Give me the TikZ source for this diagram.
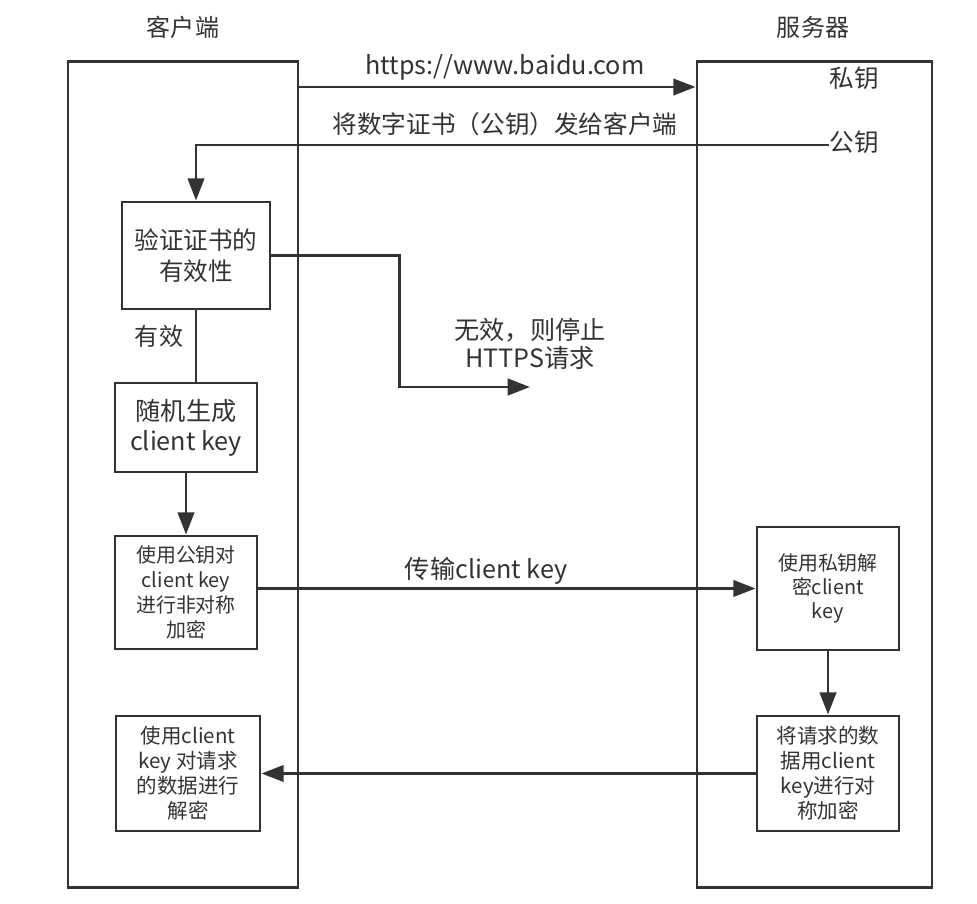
\documentclass[tikz,border=0pt]{standalone}
\usepackage{fontspec}
\setmainfont{Noto Sans CJK SC}
\usetikzlibrary{arrows.meta}
\definecolor{ink}{HTML}{333333}
\newcommand{\fs}[2]{\fontsize{#1pt}{#2pt}\selectfont}
\begin{document}
\begin{tikzpicture}[x=0.03cm,y=-0.03cm,
  line/.style={draw=ink,line width=2.5pt},
  arr/.style={line,-{Triangle[length=19pt,width=14pt]}},
  lane/.style={line,rectangle,inner sep=0pt,minimum width=#1,minimum height=24.78cm},
  box/.style={line,rectangle,inner sep=0pt,align=center,text=ink},
  lbl/.style={text=ink,inner sep=0pt,align=center}]
\useasboundingbox[fill=white] (0,0) rectangle (977,904);
% lanes
\node[lane=6.9cm] (client) at (183,474.5) {};
\node[lane=7.05cm] (server) at (814.5,474.5) {};
\node[lbl,font=\fs{20.5}{24}] (ct) at (183,27) {客户端};
\node[lbl,font=\fs{20.5}{24}] (st) at (813,27) {服务器};
\node[lbl,font=\fs{21}{24}] (priv) at (854,78) {私钥};
\node[lbl,font=\fs{21}{24}] (pub) at (854,142) {公钥};
% boxes
\node[box,minimum width=4.44cm,minimum height=3.21cm,font=\fs{21}{27}] (v1) at (196,255.5) {验证证书的\\有效性};
\node[box,minimum width=4.26cm,minimum height=2.67cm,font=\fs{21.5}{25.6}] (v2) at (186,427.5) {随机生成\\client key};
\node[box,minimum width=4.26cm,minimum height=3.39cm,font=\fs{17}{21.3}] (v3) at (186,592.5) {使用公钥对\\client key\\进行非对称\\加密};
\node[box,minimum width=4.26cm,minimum height=3.69cm,font=\fs{17}{20.5}] (v4) at (828,588.5) {使用私钥解\\密client\\key};
\node[box,minimum width=4.26cm,minimum height=3.45cm,font=\fs{17.5}{21.3}] (v5) at (828,773.5) {将请求的数\\据用client\\key进行对\\称加密};
\node[box,minimum width=4.32cm,minimum height=3.45cm,font=\fs{17.5}{21.3}] (v6) at (188,773.5) {使用client\\key 对请求\\的数据进行\\解密};
% labels
\node[lbl,font=\fs{21.5}{24}] (lh) at (505,67) {https://www.baidu.com};
\node[lbl,font=\fs{21}{24}] (lc) at (505,124) {将数字证书（公钥）发给客户端};
\node[lbl,font=\fs{20.5}{24}] (lv) at (159,336) {有效};
\node[lbl,font=\fs{21.5}{24}] (li) at (530,344) {无效，则停止\\HTTPS请求};
\node[lbl,font=\fs{21.5}{24}] (lt) at (486,571) {传输client key};
\coordinate (stop) at (530,387);
% connectors
\draw[arr] ([yshift=-0.81cm]client.north east) -- ([yshift=-0.81cm]server.north west);
\draw[arr] ([yshift=-0.09cm]pub.west) -| (v1.north);
\draw[arr] (v1.east) -- ++(128,0) |- (stop);
\draw[line] (v1.south) -- (v1.south |- v2.north);
\draw[arr] (v2.south) -- (v3.north);
\draw[arr] (v4.west -| v3.east) -- (v4.west);
\draw[arr] (v4.south) -- (v5.north);
\draw[arr] (v5.west) -- (v6.east);
\end{tikzpicture}
\end{document}
